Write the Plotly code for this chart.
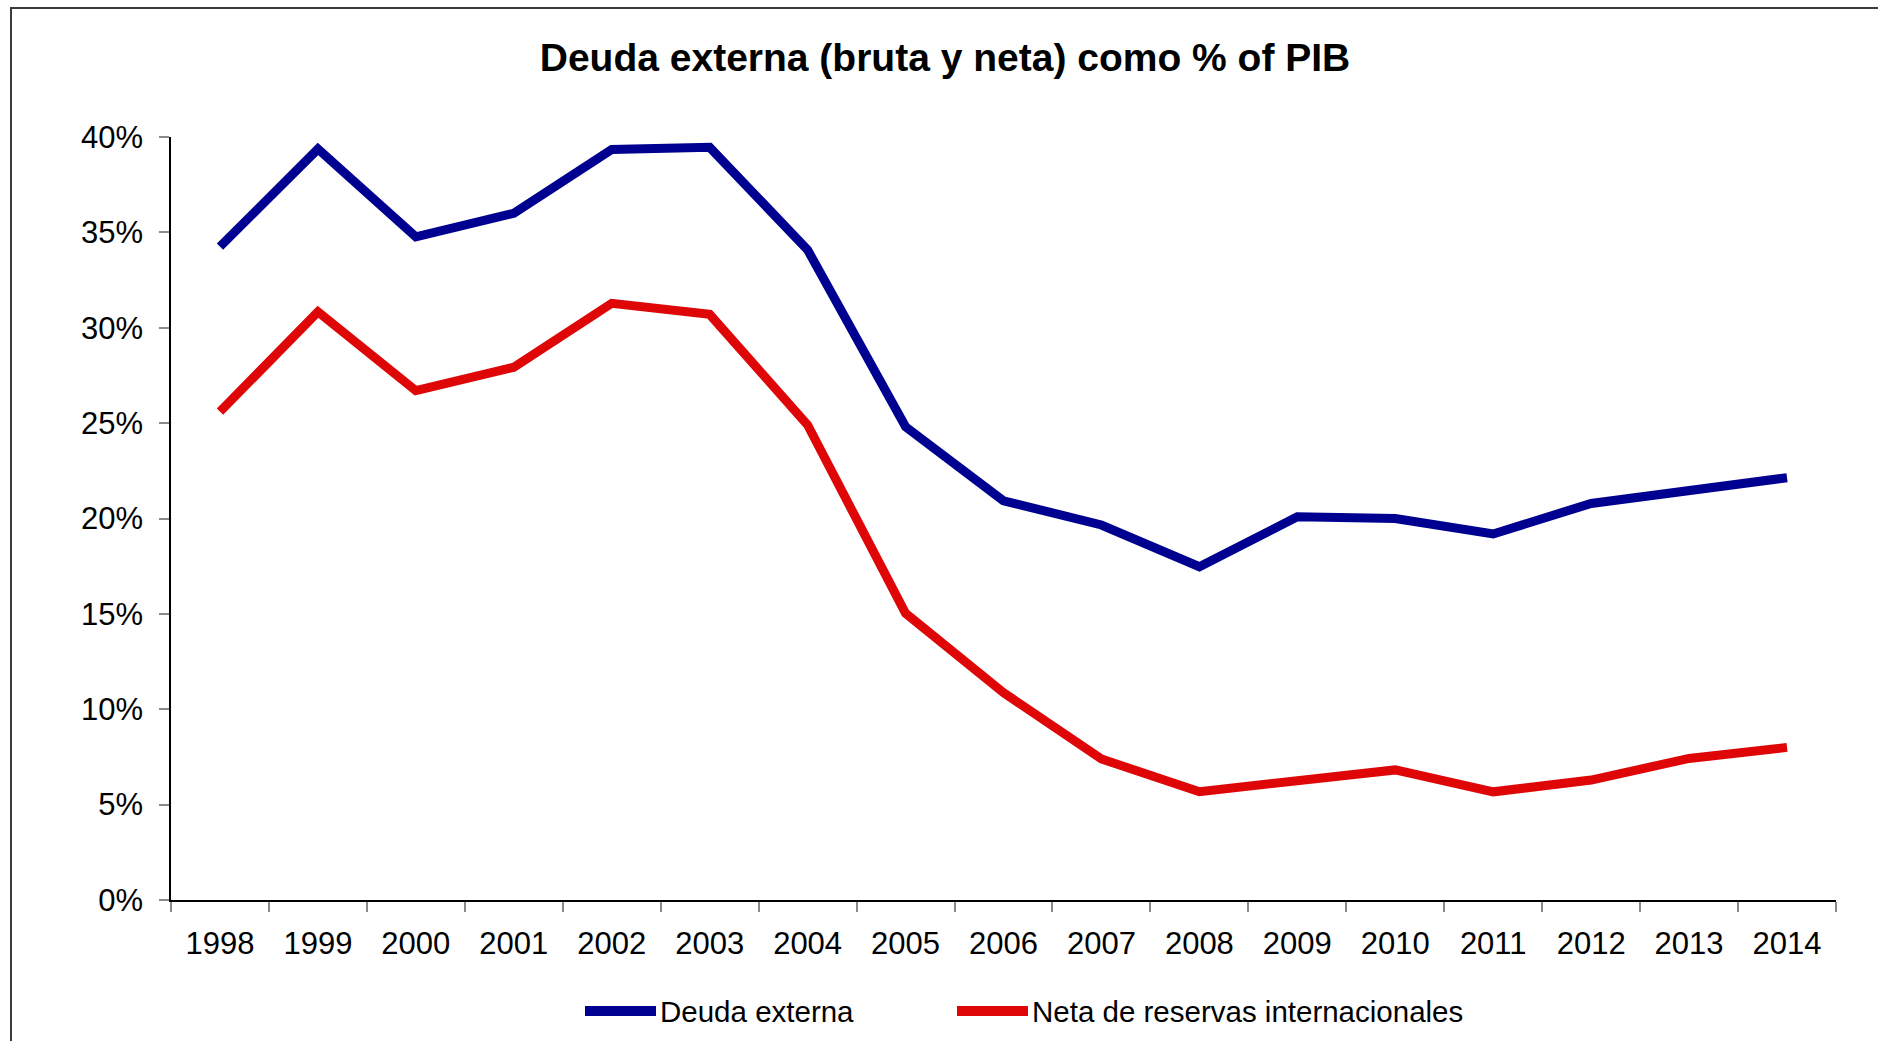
import plotly.graph_objects as go

# Datos
years = ['1998', '1999', '2000', '2001', '2002', '2003', '2004', '2005', '2006',
         '2007', '2008', '2009', '2010', '2011', '2012', '2013', '2014']
deuda_externa = [34.25, 39.37, 34.77, 36.0, 39.35, 39.46, 34.08, 24.81, 20.93,
                 19.66, 17.47, 20.09, 20.0, 19.19, 20.79, 21.46, 22.14]
neta_reservas = [25.6, 30.84, 26.7, 27.93, 31.28, 30.70, 24.9, 15.03, 10.87,
                 7.39, 5.68, 6.24, 6.82, 5.67, 6.29, 7.42, 8.0]
series_names = ['Deuda externa', 'Neta de reservas internacionales']
series_colors = ['#000090', '#DE0606']

TITLE = 'Deuda externa (bruta y neta) como % of PIB'
FONT = 'Arial, Liberation Sans, sans-serif'

W, H = 1878, 1041
L, R, T, B = 171, 42, 137, 141


def px_x(p):
    return (p - L) / (W - L - R)


def px_y(p):
    return (H - B - p) / (H - T - B)


fig = go.Figure()
for name, vals, color in zip(series_names, [deuda_externa, neta_reservas], series_colors):
    fig.add_trace(go.Scatter(
        x=years, y=vals, name=name, mode='lines',
        line=dict(color=color, width=9),
        showlegend=False,
    ))

# Leyenda manual (líneas largas como en el original)
legend_pos = [(585, 656), (957, 1028)]
shapes = []
annotations = []
for (x0, x1), name, color in zip(legend_pos, series_names, series_colors):
    shapes.append(dict(type='line', xref='paper', yref='paper',
                       x0=px_x(x0), x1=px_x(x1), y0=px_y(1011), y1=px_y(1011),
                       line=dict(color=color, width=10)))
    annotations.append(dict(text=name, xref='paper', yref='paper',
                            x=px_x(x1 + 2), y=px_y(1011), xanchor='left', yanchor='middle',
                            showarrow=False, font=dict(family=FONT, size=29.5, color='black')))

# Marco exterior
shapes.append(dict(type='rect', xref='paper', yref='paper',
                   x0=px_x(11), x1=px_x(W + 20), y0=px_y(H + 20), y1=px_y(8),
                   line=dict(color='#3a3a3a', width=2), layer='below'))

fig.update_layout(
    width=W, height=H,
    margin=dict(l=L, r=R, t=T, b=B),
    paper_bgcolor='white',
    plot_bgcolor='white',
    font=dict(family=FONT, color='black'),
    title=dict(text='<b>' + TITLE + '</b>', x=945 / W, xref='container', xanchor='center',
               y=1 - 57 / H, yref='container', yanchor='middle',
               font=dict(family=FONT, size=39, color='black')),
    shapes=shapes,
    annotations=annotations,
)

fig.update_xaxes(
    type='category', range=[-0.5, len(years) - 0.5],
    showgrid=False, zeroline=False,
    showline=True, linecolor='black', linewidth=1.5,
    ticks='outside', tickson='boundaries', ticklen=10, tickwidth=1.5, tickcolor='#8a8a8a',
    ticklabelstandoff=15,
    tickfont=dict(family=FONT, size=31, color='black'),
)
fig.update_yaxes(
    range=[0, 40], dtick=5, ticksuffix='%',
    showgrid=False, zeroline=False,
    showline=True, linecolor='black', linewidth=1.5,
    ticks='outside', ticklen=10, tickwidth=1.5, tickcolor='#8a8a8a',
    ticklabelstandoff=10,
    tickfont=dict(family=FONT, size=31, color='black'),
)

fig.write_html("out.html", config={'displayModeBar': False},
               post_script="document.body.style.margin='0';")
